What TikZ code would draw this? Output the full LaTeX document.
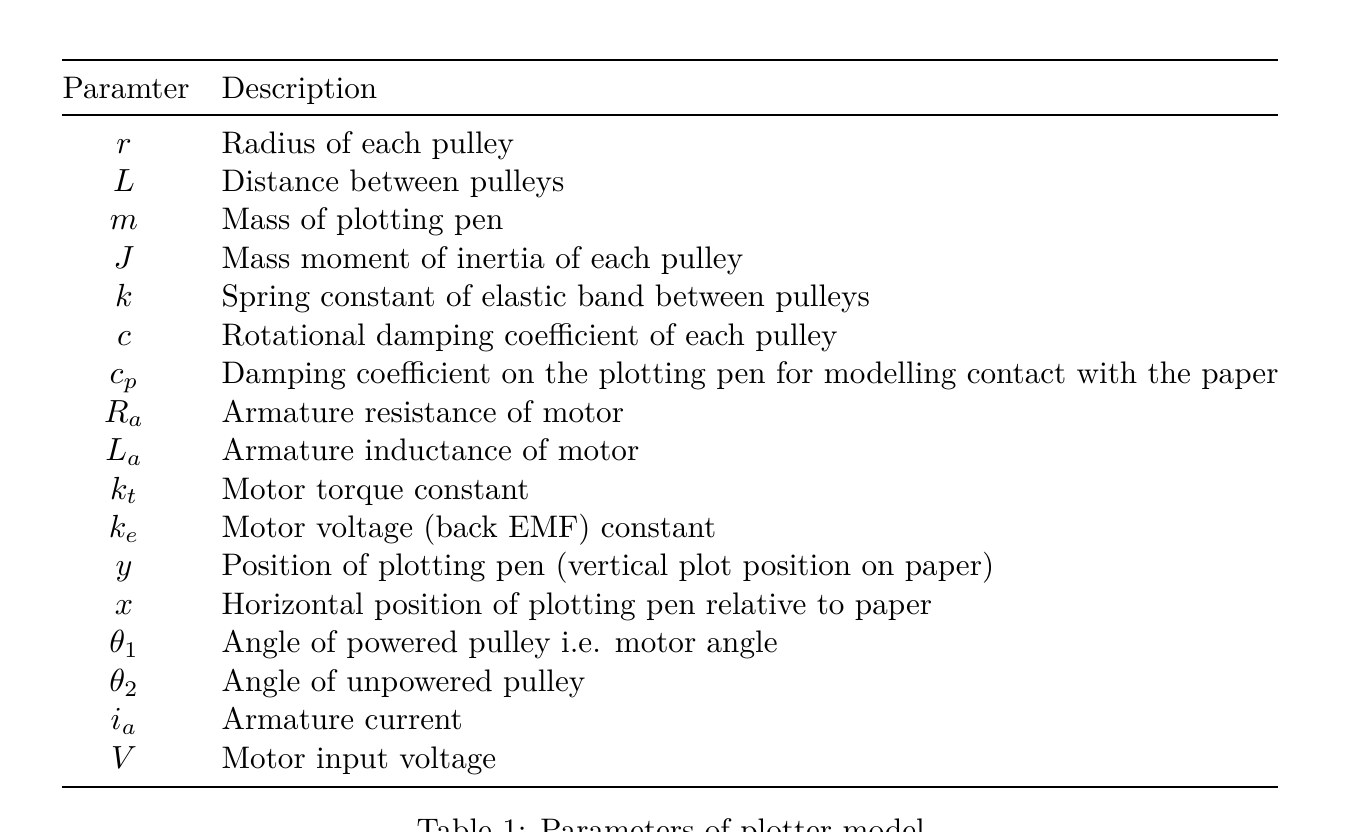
\documentclass[tikz,border=0pt]{standalone}
\begin{document}
\begin{tikzpicture}[x=0.3125pt,y=-0.3125pt,
  every node/.style={font=\fontsize{9.74pt}{12pt}\selectfont},
  sym/.style={anchor=base,inner sep=0pt},
  desc/.style={anchor=base west,inner sep=0pt}]
\clip (0,0) rectangle (1364,832);
\useasboundingbox (0,0) rectangle (1364,832);
\draw[line width=0.8pt] (62,60) coordinate(t1) -- (1278,60) coordinate(t2);
\draw[line width=0.5pt] (62,115) coordinate(m1) -- (1278,115) coordinate(m2);
\draw[line width=0.8pt] (62,787) coordinate(b1) -- (1278,787) coordinate(b2);
\node[desc] (h1) at (62,98) {Paramter};
\node[desc] (h2) at (221,98) {Description};
\foreach \s/\d [count=\i from 0] in {
 {$r$}/{Radius of each pulley},
 {$L$}/{Distance between pulleys},
 {$m$}/{Mass of plotting pen},
 {$J$}/{Mass moment of inertia of each pulley},
 {$k$}/{Spring constant of elastic band between pulleys},
 {$c$}/{Rotational damping coefficient of each pulley},
 {$c_p$}/{Damping coefficient on the plotting pen for modelling contact with the paper},
 {$R_a$}/{Armature resistance of motor},
 {$L_a$}/{Armature inductance of motor},
 {$k_t$}/{Motor torque constant},
 {$k_e$}/{Motor voltage (back EMF) constant},
 {$y$}/{Position of plotting pen (vertical plot position on paper)},
 {$x$}/{Horizontal position of plotting pen relative to paper},
 {$\theta_1$}/{Angle of powered pulley i.e. motor angle},
 {$\theta_2$}/{Angle of unpowered pulley},
 {$i_a$}/{Armature current},
 {$V$}/{Motor input voltage}} {
 \node[sym] (s\i) at (124,{153+38.45*\i}) {\s};
 \node[desc] (d\i) at (221,{153+38.45*\i}) {\d};
}
\node[desc] (cap) at (416,840) {Table 1: Parameters of plotter model};
\end{tikzpicture}
\end{document}
